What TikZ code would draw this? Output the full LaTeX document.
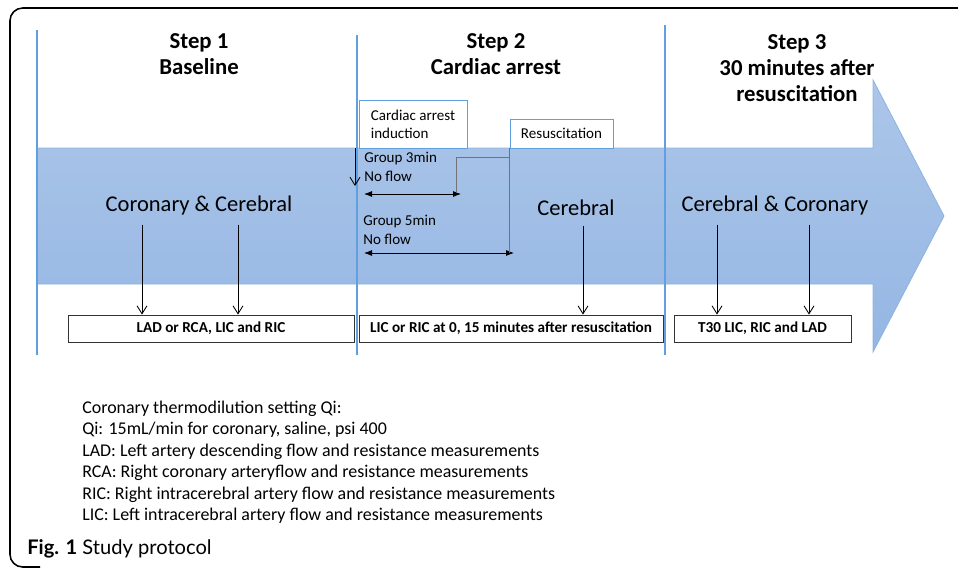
\documentclass[tikz,border=0pt]{standalone}
\usepackage{fontspec}
\setmainfont{Carlito}
\setsansfont{Carlito}
\newfontfamily\captionfont{Lato}
\usetikzlibrary{arrows.meta, positioning, calc}

\definecolor{bandtop}{RGB}{172,198,233}
\definecolor{bandbottom}{RGB}{149,182,227}
\definecolor{bandedge}{RGB}{141,180,226}
\definecolor{splitblue}{RGB}{96,160,222}

\begin{document}
\begin{tikzpicture}[
    x=0.025cm, y=-0.025cm,
    font=\sffamily,
    step title/.style={
        font=\sffamily\bfseries\fontsize{16.2}{18.6}\selectfont,
        align=center
    },
    site label/.style={
        font=\sffamily\fontsize{16}{19}\selectfont
    },
    event box/.style={
        draw=splitblue,
        fill=white,
        line width=0.6pt,
        align=left,
        font=\sffamily\fontsize{10.7}{12.8}\selectfont
    },
    group label/.style={
        anchor=west,
        align=left,
        inner sep=0pt,
        font=\sffamily\fontsize{10.7}{13.4}\selectfont
    },
    result box/.style={
        draw=black!80,
        fill=white,
        line width=0.6pt,
        minimum height=0.675cm,
        font=\sffamily\bfseries\fontsize{10.8}{12}\selectfont
    },
    split line/.style={splitblue, line width=0.75pt},
    down arrow/.style={-{Straight Barb[length=2mm, width=2.5mm]}, line width=0.6pt},
    span arrow/.style={{Latex[length=2mm, width=1.5mm]}-{Latex[length=2mm, width=1.5mm]}, line width=0.6pt}
]

    \useasboundingbox (0,0) rectangle (958,568);
    \clip (0,0) rectangle (958,568);

    % --- Frame ---
    \draw[line width=1.1pt, rounded corners=9] (970,8) -| (10,567) -- (40,567);

    % --- Timeline arrow ---
    \draw[bandedge, line width=0.6pt, top color=bandtop, bottom color=bandbottom]
        (37,148) -- (873,148) -- (873,80) -- (944,216) -- (873,352) -- (873,284) -- (37,284) -- cycle;

    % --- Step separators ---
    \coordinate (sep1) at (37,30);
    \coordinate (sep2) at (357,35);
    \coordinate (sep3) at (665,25);
    \foreach \s in {sep1, sep2, sep3}
        \draw[split line] (\s) -- (\s |- 0,355);

    % --- Step titles ---
    \node[step title] (step1) at (199,54) {Step 1\\Baseline};
    \node[step title] (step2) at (496,54) {Step 2\\Cardiac arrest};
    \node[step title] (step3) at (797,68) {Step 3\\30 minutes after\\resuscitation};

    % --- Sites ---
    \node[site label] (site1) at (199,205) {Coronary \& Cerebral};
    \node[site label] (site2) at (576,208) {Cerebral};
    \node[site label] (site3) at (775,205) {Cerebral \& Coronary};

    % --- Cardiac arrest events ---
    \node[event box, minimum width=2.7cm, minimum height=1.2cm] (induction) at (413,124) {Cardiac arrest\\induction};
    \node[event box, minimum width=2.575cm, minimum height=0.725cm] (resus) at (561.5,133.5) {Resuscitation};

    \coordinate (start) at (355,148);
    \draw[down arrow] (start) -- ++(0,38);

    \node[group label] (group3) at (364,167) {Group 3min\\No flow};
    \node[group label] (group5) at (363,230) {Group 5min\\No flow};

    \coordinate (g3a) at (364,194);
    \coordinate (g3b) at (461,194);
    \coordinate (g5a) at (364,253);
    \coordinate (g5b) at (514,253);
    \draw[span arrow] (g3a) -- (g3b);
    \draw[span arrow] (g5a) -- (g5b);

    \draw[black!55, line width=0.5pt] ($(g3b)+(-5,-2)$) |- (resus.south west |- 0,157);
    \draw[black!55, line width=0.5pt] (resus.south west) -- (resus.south west |- g5b);

    % --- Measurements ---
    \node[result box, minimum width=7.15cm] (res1) at (211,328.5) {LAD or RCA, LIC and RIC};
    \node[result box, minimum width=7.6cm] (res2) at (511,328.5) {LIC or RIC at 0, 15 minutes after resuscitation};
    \node[result box, minimum width=4.425cm] (res3) at (762.5,328.5) {T30 LIC, RIC and LAD};

    \foreach \x/\src/\dst in {142/site1/res1, 238/site1/res1, 583/site2/res2, 717/site3/res3, 809/site3/res3}
        \draw[down arrow] (\x,225 |- \src.south) ++(0,5) -- (\x,0 |- \dst.north);

    % --- Legend ---
    \node[anchor=west, align=left, inner sep=0pt, font=\sffamily\fontsize{12.75}{15.3}\selectfont] (legend) at (82,462)
        {Coronary thermodilution setting Qi:\\
         Qi: 15mL/min for coronary, saline, psi 400\\
         LAD: Left artery descending flow and resistance measurements\\
         RCA: Right coronary arteryflow and resistance measurements\\
         RIC: Right intracerebral artery flow and resistance measurements\\
         LIC: Left intracerebral artery flow and resistance measurements};

    \node[anchor=west, inner sep=0pt, font=\captionfont\fontsize{14.3}{17}\selectfont] (caption) at (27,549)
        {\textbf{Fig. 1} Study protocol};

\end{tikzpicture}
\end{document}
